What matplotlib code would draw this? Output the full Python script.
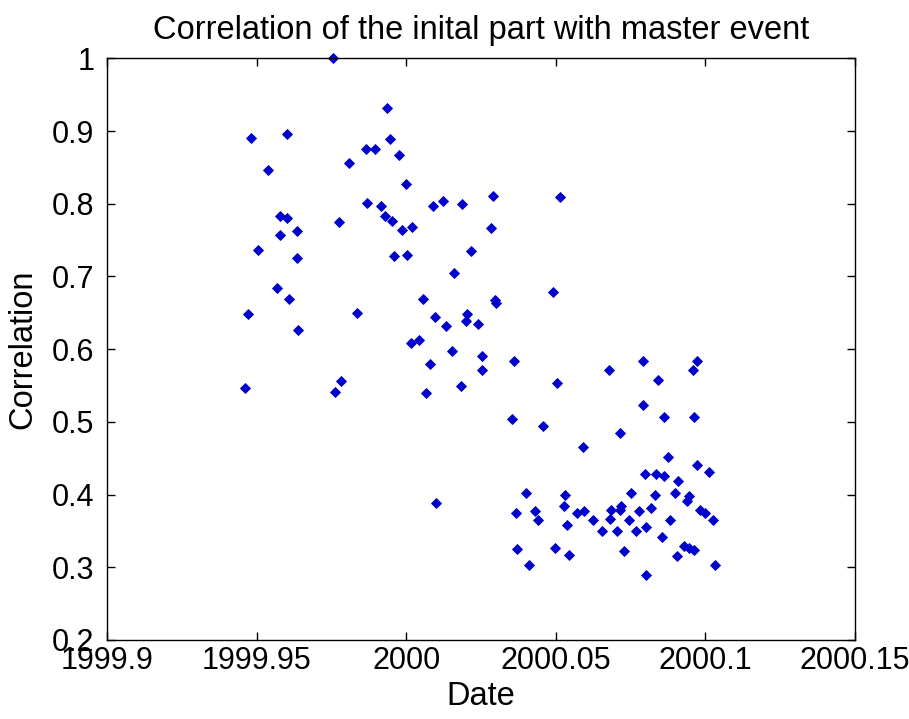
import numpy as np
import matplotlib
matplotlib.use("Agg")
import matplotlib.pyplot as plt

# event dates (decimal years) and correlation with the master event
dates = [
    1999.9757, 1999.9935, 1999.9481, 1999.9602, 1999.9946, 1999.9866, 1999.9896,
    1999.9976, 1999.9809, 1999.9538, 1999.9999, 1999.9868, 1999.9916, 2000.0090,
    2000.0124, 2000.0187, 1999.9579, 1999.9602, 1999.9930, 1999.9952, 1999.9775,
    1999.9987, 2000.0021, 1999.9635, 1999.9579, 1999.9505, 1999.9635, 1999.9958,
    2000.0003, 2000.0215, 2000.0159, 1999.9568, 1999.9608, 2000.0056, 1999.9470,
    1999.9837, 2000.0097, 2000.0132, 2000.0203, 2000.0200, 2000.0239, 2000.0291,
    2000.0515, 2000.0284, 2000.0492, 2000.0296, 2000.0300, 1999.9637, 2000.0016,
    2000.0043, 2000.0154, 2000.0078, 2000.0183, 2000.0067, 1999.9460, 1999.9781,
    1999.9763, 2000.0100, 2000.0252, 2000.0252, 2000.0360, 2000.0503, 2000.0354,
    2000.0458, 2000.0590, 2000.0677, 2000.0791, 2000.0842, 2000.0973, 2000.0957,
    2000.0791, 2000.0860, 2000.0962, 2000.0716, 2000.0875, 2000.0973, 2000.1013,
    2000.0797, 2000.0836, 2000.0860, 2000.0910, 2000.0400, 2000.0532, 2000.0751,
    2000.0831, 2000.0899, 2000.0944, 2000.0939, 2000.0526, 2000.0719, 2000.0714,
    2000.0686, 2000.0819, 2000.0779, 2000.0983, 2000.0998, 2000.0366, 2000.0429,
    2000.0440, 2000.0571, 2000.0595, 2000.0624, 2000.0681, 2000.0745, 2000.0881,
    2000.1026, 2000.0537, 2000.0654, 2000.0705, 2000.0768, 2000.0802, 2000.0854,
    2000.0928, 2000.0944, 2000.0963, 2000.0371, 2000.0498, 2000.0544, 2000.0727,
    2000.0905, 2000.0411, 2000.0803, 2000.1031,
]
corr = [
    1.000, 0.931, 0.891, 0.896, 0.889, 0.875, 0.875,
    0.867, 0.856, 0.846, 0.827, 0.801, 0.797, 0.797,
    0.804, 0.800, 0.783, 0.780, 0.783, 0.776, 0.775,
    0.764, 0.768, 0.763, 0.757, 0.737, 0.726, 0.728,
    0.730, 0.735, 0.705, 0.684, 0.669, 0.669, 0.648,
    0.650, 0.644, 0.632, 0.649, 0.639, 0.634, 0.811,
    0.809, 0.766, 0.679, 0.668, 0.664, 0.627, 0.608,
    0.613, 0.598, 0.580, 0.549, 0.539, 0.546, 0.556,
    0.541, 0.388, 0.590, 0.572, 0.584, 0.554, 0.504,
    0.494, 0.466, 0.572, 0.584, 0.558, 0.584, 0.572,
    0.523, 0.506, 0.506, 0.485, 0.452, 0.440, 0.431,
    0.428, 0.428, 0.426, 0.419, 0.402, 0.400, 0.402,
    0.400, 0.402, 0.398, 0.391, 0.384, 0.384, 0.379,
    0.379, 0.381, 0.377, 0.379, 0.374, 0.374, 0.377,
    0.365, 0.374, 0.377, 0.365, 0.367, 0.365, 0.365,
    0.365, 0.358, 0.350, 0.350, 0.350, 0.355, 0.341,
    0.329, 0.326, 0.324, 0.325, 0.327, 0.317, 0.322,
    0.315, 0.303, 0.289, 0.303,
]

xticks = [1999.9, 1999.95, 2000.0, 2000.05, 2000.1, 2000.15]
xtick_labels = ["1999.9", "1999.95", "2000", "2000.05", "2000.1", "2000.15"]
yticks = [0.2, 0.3, 0.4, 0.5, 0.6, 0.7, 0.8, 0.9, 1.0]
ytick_labels = ["0.2", "0.3", "0.4", "0.5", "0.6", "0.7", "0.8", "0.9", "1"]

plt.rcParams["font.family"] = ["Liberation Sans", "DejaVu Sans"]
tick_fs = 22
label_fs = 23.5

fig = plt.figure(figsize=(9.09, 7.19), dpi=100)
ax = fig.add_axes([0.1177, 0.1099, 0.8229, 0.8090])

ax.plot(dates, corr, linestyle="none", marker="D", markersize=4.6,
        color="#0000cc", markeredgewidth=0.6, clip_on=False)

ax.set_xlim(1999.9, 2000.15)
ax.set_ylim(0.2, 1.0)
ax.set_xticks(xticks)
ax.set_xticklabels(xtick_labels)
ax.set_yticks(yticks)
ax.set_yticklabels(ytick_labels)

ax.tick_params(direction="in", length=6, width=1.0, top=True, right=True,
               labelsize=tick_fs, pad=4)
ax.tick_params(axis="y", pad=9)
for sp in ax.spines.values():
    sp.set_linewidth(1.0)

ax.set_xlabel("Date", fontsize=label_fs, labelpad=4)
ax.set_ylabel("Correlation", fontsize=label_fs, labelpad=10)
ax.set_title("Correlation of the inital part with master event",
             fontsize=label_fs, pad=14)

fig.savefig("out.png", dpi=100, facecolor="white")
